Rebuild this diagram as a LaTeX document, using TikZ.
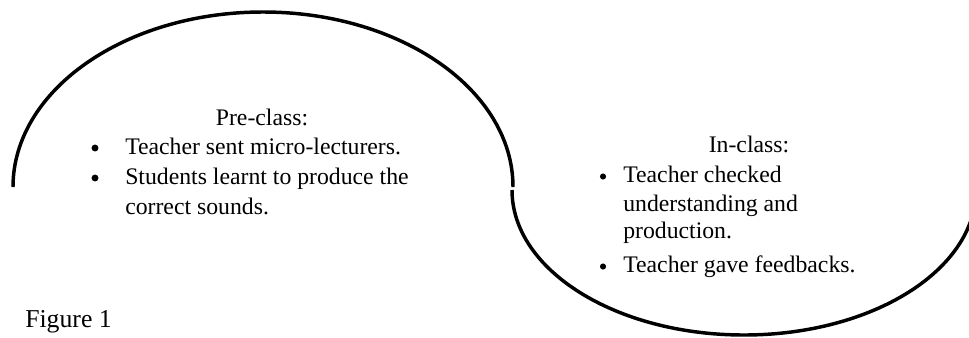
\documentclass[tikz,border=0pt]{standalone}
\usepackage{fontspec}
\setmainfont{Liberation Serif}
\begin{document}
\begin{tikzpicture}[x=0.75pt,y=-0.75pt,
  arcline/.style={line width=2.6pt,line cap=butt},
  txt/.style={font=\fontsize{17.8}{22}\selectfont,inner sep=0pt},
  bul/.style={circle,fill=black,draw=none,inner sep=0pt,minimum size=5.2pt},
  sbul/.style={bul,minimum size=4.6pt},
  item/.style={txt,anchor=base west},
  ]
\useasboundingbox (0,0) rectangle (969,337);
% arcs
\draw[arcline] (13,187) arc[start angle=180,end angle=360,x radius=250,y radius=175];
\draw[arcline] (512,190) arc[start angle=180,end angle=0,x radius=232,y radius=145];
% pre-class text
\node[txt,anchor=base] (pre) at (262,125) {Pre-class:};
\node[bul] (pb1) at (95,148) {};
\node[item] (pt1) at (125,154) {Teacher sent micro-lecturers.};
\node[bul] (pb2) at (95,178) {};
\node[item] (pt2) at (125,184) {Students learnt to produce the};
\node[item] (pt3) at (125,214) {correct sounds.};
% in-class text
\begin{scope}
\clip (520,100) rectangle (969,277);
\node[txt,anchor=base] (inc) at (749,152) {In-class:};
\node[sbul] (ib1) at (603,176.5) {};
\node[item] (it1) at (623,182) {Teacher checked};
\node[item] (it2) at (623,211) {understanding and};
\node[item] (it3) at (623,238) {production.};
\node[sbul] (ib2) at (603,266.5) {};
\node[item] (it4) at (623,272) {Teacher gave feedbacks.};
\end{scope}
% caption
\node[anchor=base west,inner sep=0pt,font=\fontsize{19.3}{23}\selectfont] (fig) at (25,327) {Figure 1};
\end{tikzpicture}
\end{document}
